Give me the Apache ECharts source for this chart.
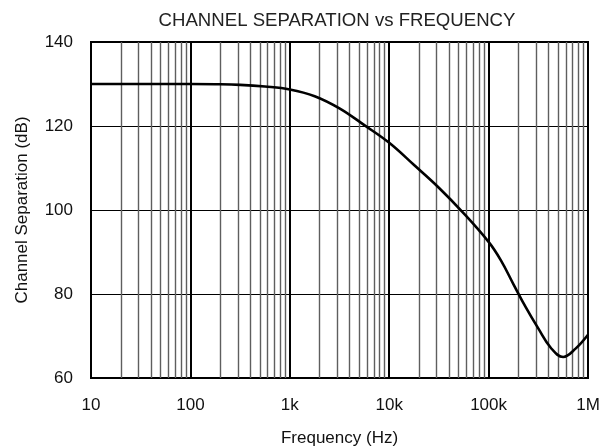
<!DOCTYPE html>
<html>
<head>
<meta charset="utf-8">
<script src="https://cdn.jsdelivr.net/npm/echarts@6/dist/echarts.min.js"></script>
<style>
html,body{margin:0;padding:0;background:#fff;}
#chart{width:612px;height:447px;}
</style>
</head>
<body>
<div id="chart"></div>
<script>
// Data
const freqHz = [10, 31.6, 100, 178, 316, 562, 1000, 1780, 3160, 5620, 10000, 17800, 31600, 56200, 100000, 133000, 178000, 237000, 316000, 422000, 562000, 750000, 1000000];
const separationDb = [130, 130, 130, 129.95, 129.8, 129.4, 128.7, 127.1, 124.2, 120.2, 116, 110.7, 105.3, 99.2, 92.4, 88.0, 82.3, 76.8, 71.8, 67.2, 65.0, 67.0, 70.3];
const xTickLabels = {10: '10', 100: '100', 1000: '1k', 10000: '10k', 100000: '100k', 1000000: '1M'};
const yTicks = [60, 80, 100, 120, 140];
const decades = [10, 100, 1000, 10000, 100000];
const minorMultipliers = [2, 3, 4, 5, 6, 7, 8, 9];

const minorLines = [];
decades.forEach(d => minorMultipliers.forEach(m => minorLines.push({xAxis: d * m})));

const font = 'Liberation Sans, Arial, sans-serif';
const chart = echarts.init(document.getElementById('chart'), null, {renderer: 'canvas'});
chart.setOption({
  animation: false,
  backgroundColor: '#fff',
  title: {
    text: 'CHANNEL SEPARATION vs FREQUENCY',
    left: 332, top: 6, textAlign: 'center',
    textStyle: {fontFamily: font, fontSize: 18.6, fontWeight: 'normal', color: '#222'}
  },
  grid: {left: 91, right: 24, top: 42, bottom: 69, outerBoundsMode: 'none', containLabel: false,
    show: true, borderColor: '#000', borderWidth: 2, backgroundColor: 'transparent'},
  xAxis: {
    type: 'log', logBase: 10, min: 10, max: 1000000,
    name: 'Frequency (Hz)', nameLocation: 'middle', nameGap: 52,
    nameTextStyle: {fontFamily: font, fontSize: 17, color: '#111'},
    axisLine: {show: true, lineStyle: {color: '#000', width: 2}},
    axisTick: {show: false},
    axisLabel: {fontFamily: font, fontSize: 17, color: '#111', margin: 19,
      formatter: v => xTickLabels[Math.round(v)] || ''},
    splitLine: {show: true, lineStyle: {color: '#000', width: 2}}
  },
  yAxis: {
    type: 'value', min: 60, max: 140, interval: 20,
    name: 'Channel Separation (dB)', nameLocation: 'middle', nameGap: 60,
    nameTextStyle: {fontFamily: font, fontSize: 17, color: '#111'},
    axisLine: {show: true, lineStyle: {color: '#000', width: 2}},
    axisTick: {show: false},
    axisLabel: {fontFamily: font, fontSize: 17, color: '#111', margin: 18,
      formatter: v => yTicks.includes(v) ? String(v) : ''},
    splitLine: {show: true, lineStyle: {color: '#000', width: 1}}
  },
  series: [
    {
      type: 'line', data: [], silent: true,
      markLine: {
        silent: true, symbol: 'none', animation: false,
        label: {show: false},
        lineStyle: {color: '#5e5e5e', width: 1.4, type: 'solid'},
        emphasis: {disabled: true},
        data: minorLines
      }
    },
    {
      type: 'line',
      data: freqHz.map((f, i) => [f, separationDb[i]]),
      smooth: 0.4,
      showSymbol: false,
      lineStyle: {color: '#000', width: 2.6},
      itemStyle: {color: '#000'},
      z: 5
    }
  ]
});
</script>
</body>
</html>
